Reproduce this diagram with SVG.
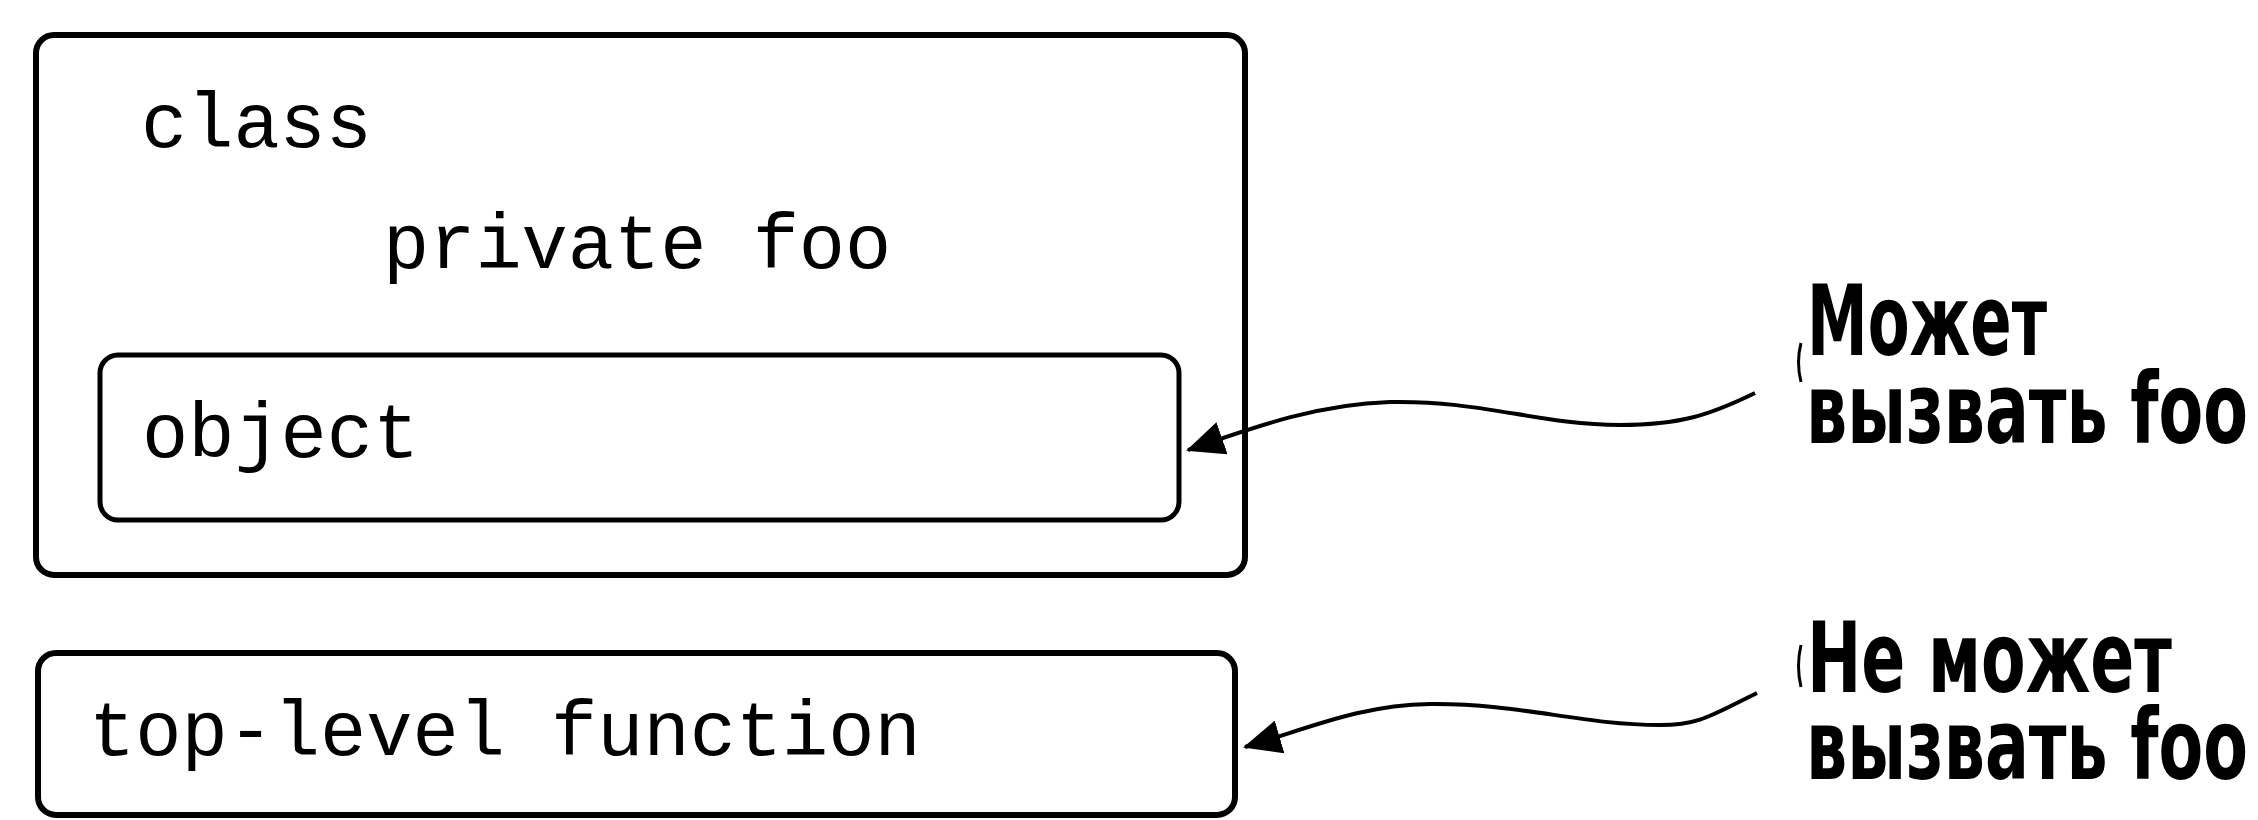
<svg xmlns="http://www.w3.org/2000/svg" width="2258" height="820" viewBox="0 0 2258 820">
<style>
.box{fill:none;stroke:#000;stroke-width:6}
.inner{fill:none;stroke:#000;stroke-width:5}
.code{font-family:"Liberation Mono","Courier New",monospace;font-size:77px;fill:#000}
.lbl{font-family:"DejaVu Sans Condensed","DejaVu Sans",sans-serif;font-weight:bold;font-size:98px;fill:#000}
.conn{fill:none;stroke:#000;stroke-width:4}
.mark{fill:none;stroke:#000;stroke-width:3}
</style>
<defs>
<marker id="ah" viewBox="0 0 38 34" refX="36" refY="17" markerWidth="38" markerHeight="34" markerUnits="userSpaceOnUse" orient="auto">
<path d="M0,0 L38,17 L0,34 Z" fill="#000"/>
</marker>
</defs>
<rect width="2258" height="820" fill="#fff"/>
<g id="class">
<rect class="box" x="36" y="35" width="1209" height="540" rx="18"/>
<text class="code" x="141" y="147">class</text>
<text class="code" x="383" y="268">private foo</text>
</g>
<g id="object">
<rect class="inner" x="100" y="355" width="1079" height="165" rx="18"/>
<text class="code" x="142" y="457">object</text>
</g>
<g id="toplevel">
<rect class="box" x="38" y="653" width="1197" height="162" rx="18"/>
<text class="code" x="89" y="755">top-level function</text>
</g>
<g id="label1">
<path class="mark" d="M1801,343 Q1796,362 1801,382"/>
<text class="lbl" x="1807" y="355" textLength="240" lengthAdjust="spacingAndGlyphs">Может</text>
<text class="lbl" x="1806" y="443" textLength="442" lengthAdjust="spacingAndGlyphs">вызвать foo</text>
</g>
<g id="label2">
<path class="mark" d="M1801,645 Q1796,666 1801,687"/>
<text class="lbl" x="1807" y="692" textLength="365" lengthAdjust="spacingAndGlyphs">Не может</text>
<text class="lbl" x="1806" y="779" textLength="442" lengthAdjust="spacingAndGlyphs">вызвать foo</text>
</g>
<g id="connectors">
<path class="conn" marker-end="url(#ah)" d="M1755,393 C1710,415 1680,425 1620,425 C1540,425 1480,400 1390,402 C1320,404 1260,425 1188,450"/>
<path class="conn" marker-end="url(#ah)" d="M1757,693 C1712,715 1700,725 1660,725 C1580,725 1520,703 1430,704 C1360,705 1310,728 1245,747"/>
</g>
</svg>
